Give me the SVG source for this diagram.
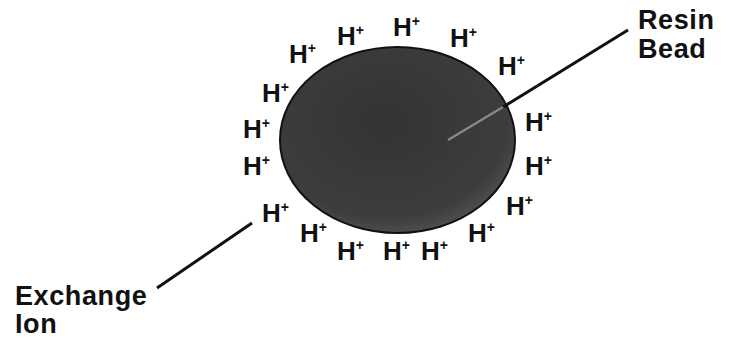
<svg xmlns="http://www.w3.org/2000/svg" width="734" height="338" viewBox="0 0 734 338">
<style>
.ion{font-family:"Liberation Sans",Arial,sans-serif;font-weight:bold;font-size:26px;fill:#111}
.ion tspan{font-size:14px}
.lbl{font-family:"Liberation Sans",Arial,sans-serif;font-weight:bold;font-size:27px;fill:#111;letter-spacing:0.6px}
.lead{stroke:#111;stroke-width:3;fill:none}
</style>
<defs>
<radialGradient id="g" cx="0.45" cy="0.4" r="0.65">
<stop offset="0" stop-color="#333"/>
<stop offset="0.8" stop-color="#3d3d3d"/>
<stop offset="1" stop-color="#555"/>
</radialGradient>
</defs>
<rect width="734" height="338" fill="#fff"/>
<g id="bead">
<ellipse cx="397.5" cy="140" rx="117.5" ry="93" fill="url(#g)" stroke="#111" stroke-width="2"/>
</g>
<g id="ions">
<text class="ion" x="289" y="63">H<tspan dy="-10">+</tspan></text>
<text class="ion" x="337" y="45">H<tspan dy="-10">+</tspan></text>
<text class="ion" x="393" y="36">H<tspan dy="-10">+</tspan></text>
<text class="ion" x="450" y="47">H<tspan dy="-10">+</tspan></text>
<text class="ion" x="498" y="75">H<tspan dy="-10">+</tspan></text>
<text class="ion" x="262" y="102">H<tspan dy="-10">+</tspan></text>
<text class="ion" x="243" y="138">H<tspan dy="-10">+</tspan></text>
<text class="ion" x="243" y="175">H<tspan dy="-10">+</tspan></text>
<text class="ion" x="262" y="222">H<tspan dy="-10">+</tspan></text>
<text class="ion" x="300" y="242">H<tspan dy="-10">+</tspan></text>
<text class="ion" x="337" y="260">H<tspan dy="-10">+</tspan></text>
<text class="ion" x="383" y="260">H<tspan dy="-10">+</tspan></text>
<text class="ion" x="421" y="260">H<tspan dy="-10">+</tspan></text>
<text class="ion" x="468" y="242">H<tspan dy="-10">+</tspan></text>
<text class="ion" x="506" y="215">H<tspan dy="-10">+</tspan></text>
<text class="ion" x="525" y="175">H<tspan dy="-10">+</tspan></text>
<text class="ion" x="525" y="131">H<tspan dy="-10">+</tspan></text>
</g>
<g id="connectors">
<line class="lead" x1="628" y1="30" x2="503" y2="107"/>
<line x1="503" y1="107" x2="448" y2="140" stroke="#888" stroke-width="2.5"/>
<line class="lead" x1="252" y1="223" x2="157" y2="288"/>
</g>
<g id="label-resin">
<text class="lbl" x="638" y="29">Resin</text>
<text class="lbl" x="638" y="58">Bead</text>
</g>
<g id="label-exchange">
<text class="lbl" x="15" y="305">Exchange</text>
<text class="lbl" x="15" y="333">Ion</text>
</g>
</svg>
